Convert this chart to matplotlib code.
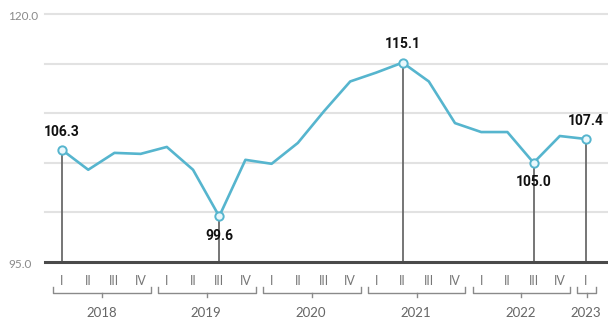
import matplotlib.pyplot as plt
import numpy as np

years = ["2018", "2019", "2020", "2021", "2022", "2023"]
quarters_per_year = [4, 4, 4, 4, 4, 1]
roman = ["I", "II", "III", "IV"]
values = [106.3, 104.3, 106.0, 105.9, 106.6, 104.3, 99.6, 105.3, 104.9, 107.0,
          110.2, 113.2, 114.1, 115.1, 113.2, 109.0, 108.1, 108.1, 105.0, 107.7, 107.4]
marked = [0, 6, 13, 18, 20]
marked_above = [True, False, True, False, True]

line_color = "#56b5ce"
W, H = 608, 323

fig = plt.figure(figsize=(W / 100, H / 100), dpi=100)
ax = fig.add_axes([45 / W, 1 - 262 / H, 1 - 45 / W, (262 - 14) / H])

x = np.arange(len(values))
ax.set_xlim(-0.65, 20.84)
ax.set_ylim(95, 120)

# light grid
for g in [100, 105, 110, 115, 120]:
    ax.axhline(g, color="#e2e2e2", lw=1.5, zorder=0, clip_on=False)
ax.axhline(95, color="#4a4a4a", lw=2.2, zorder=3, clip_on=False)

# drop lines
for i in marked:
    ax.plot([i, i], [95, values[i]], color="#6a6a6a", lw=1.3, zorder=1)

ax.plot(x, values, color=line_color, lw=1.9, zorder=2, solid_joinstyle="round")
ax.plot(x[marked], np.array(values)[marked], "o", ms=6, mfc="#eaf8fc",
        mec=line_color, mew=1.4, zorder=4)

for i, up in zip(marked, marked_above):
    off = 8 if up else -9
    ax.annotate(f"{values[i]:.1f}", (i, values[i]), xytext=(0, off),
                textcoords="offset points", ha="center",
                va="bottom" if up else "top", fontsize=10, fontweight="bold",
                family="Roboto", color="#111111", zorder=5)

for s in ax.spines.values():
    s.set_visible(False)
ax.set_xticks([])
ax.set_yticks([])

fig.text(8 / W, 1 - 17 / H, "120.0", ha="left", va="center", fontsize=8.5,
         family="Lato", color="#8a8a8a")
fig.text(8 / W, 1 - 264 / H, "95.0", ha="left", va="center", fontsize=8.5,
         family="Lato", color="#8a8a8a")

# quarter labels and year brackets
trans = ax.get_xaxis_transform()
start = 0
for yr, n in zip(years, quarters_per_year):
    for q in range(n):
        ax.text(start + q, -0.075, roman[q], transform=trans, ha="center",
                va="center", fontsize=9, family="Lato", color="#777777")
    x0, x1 = start - 0.33, start + n - 1 + 0.4
    yb, yt = -0.127, -0.102
    ax.plot([x0, x0, x1, x1], [yt, yb, yb, yt], color="#8a8a8a", lw=1.0,
            transform=trans, clip_on=False)
    xm = (x0 + x1) / 2
    ax.plot([xm, xm], [yb, yb - 0.015], color="#8a8a8a", lw=1.0,
            transform=trans, clip_on=False)
    ax.text(start + (n - 1) / 2, -0.207, yr, transform=trans, ha="center",
            va="center", fontsize=9.5, family="Lato", color="#666666")
    start += n

fig.savefig("out.png", dpi=100)
